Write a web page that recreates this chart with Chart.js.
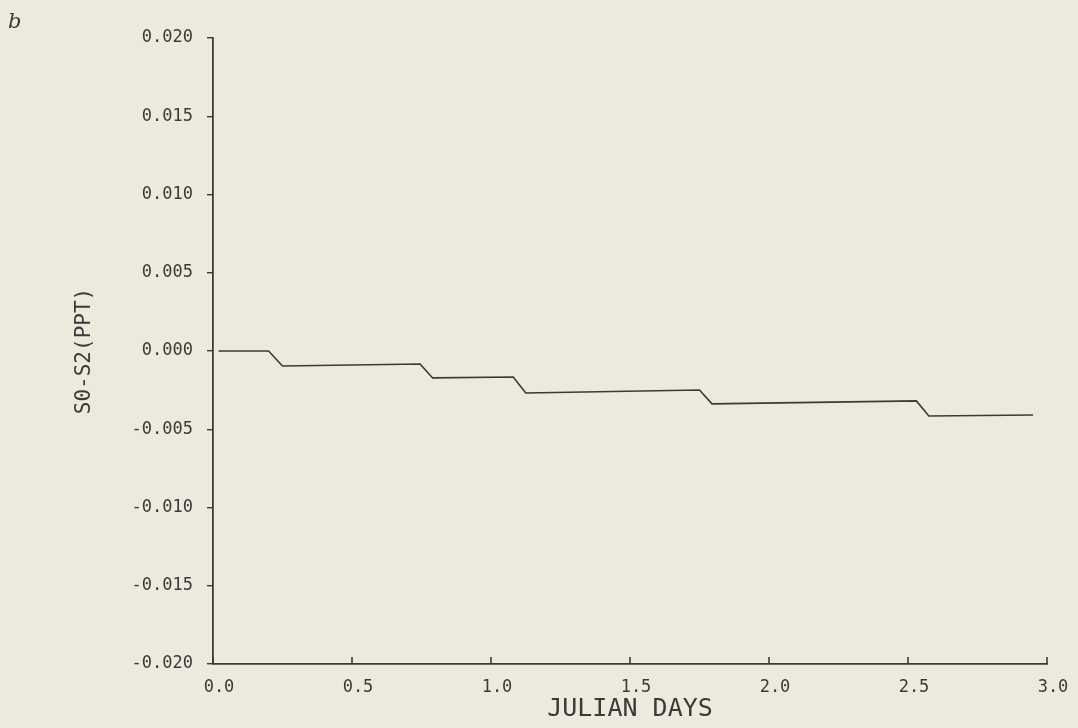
<!DOCTYPE html>
<html>
<head>
<meta charset="utf-8">
<script src="https://cdn.jsdelivr.net/npm/chart.js@4.4.1/dist/chart.umd.min.js"></script>
<style>
  html, body { margin: 0; padding: 0; background: #ede9dc; }
  #wrap { width: 1078px; height: 728px; }
</style>
</head>
<body>
<div id="wrap"><canvas id="salinityChart" width="1078" height="728"></canvas></div>
<script>
// ── salinity difference record, S0 - S2 (ppt) vs julian days ──
const days   = [0.02, 0.20, 0.25, 0.745, 0.79, 1.08, 1.125, 1.75, 1.795, 2.53, 2.575, 2.95];
const deltaS = [0.0, 0.0, -0.00096, -0.00083, -0.00172, -0.00166, -0.00268, -0.00249, -0.00338, -0.00319, -0.00415, -0.00409];

const xTicks = [0.0, 0.5, 1.0, 1.5, 2.0, 2.5, 3.0];
const yTicks = [0.020, 0.015, 0.010, 0.005, 0.000, -0.005, -0.010, -0.015, -0.020];

const INK = '#3a3a3a';
const PAPER = '#ede9dc';
const TICK_FONT = { family: 'DejaVu Sans Mono', size: 17 };

// paper background + panel letter
const paperPlugin = {
  id: 'paper',
  beforeDraw(chart) {
    const { ctx, width, height } = chart;
    ctx.save();
    ctx.fillStyle = PAPER;
    ctx.fillRect(0, 0, width, height);
    ctx.restore();
  },
  afterDraw(chart) {
    const ctx = chart.ctx;
    ctx.save();
    ctx.fillStyle = INK;
    ctx.font = 'italic 21px "DejaVu Serif"';
    ctx.textBaseline = 'alphabetic';
    ctx.fillText('b', 8, 28);
    ctx.restore();
  }
};

// x ticks point up into the plot, plotter style
const innerTicks = {
  id: 'innerTicks',
  afterDraw(chart) {
    const x = chart.scales.x;
    const ctx = chart.ctx;
    ctx.save();
    ctx.strokeStyle = INK;
    ctx.lineWidth = 1.6;
    x.ticks.forEach(t => {
      const px = x.getPixelForValue(t.value);
      ctx.beginPath();
      ctx.moveTo(px, x.top);
      ctx.lineTo(px, x.top - 7);
      ctx.stroke();
    });
    ctx.restore();
  }
};

new Chart(document.getElementById('salinityChart'), {
  type: 'line',
  data: {
    datasets: [{
      data: days.map((d, i) => ({ x: d, y: deltaS[i] })),
      borderColor: INK,
      borderWidth: 1.6,
      pointRadius: 0,
      tension: 0,
      fill: false
    }]
  },
  options: {
    responsive: false,
    animation: false,
    layout: { padding: { left: 0, right: 31, top: 38, bottom: 0 } },
    plugins: { legend: { display: false }, tooltip: { enabled: false } },
    scales: {
      x: {
        type: 'linear',
        min: 0, max: 3,
        afterBuildTicks: s => { s.ticks = xTicks.map(v => ({ value: v })); },
        afterFit: s => { s.height = 64; },
        border: { display: true, color: INK, width: 1.8 },
        grid: { display: false, drawTicks: false },
        ticks: {
          color: INK, font: TICK_FONT, padding: 13, labelOffset: 6,
          maxRotation: 0, autoSkip: false,
          callback: v => v.toFixed(1)
        },
        title: {
          display: true, text: 'JULIAN DAYS', color: INK,
          font: { family: 'DejaVu Sans Mono', size: 25 },
          padding: { top: 0, bottom: 4 }
        }
      },
      y: {
        type: 'linear',
        min: -0.02, max: 0.02,
        afterBuildTicks: s => { s.ticks = yTicks.map(v => ({ value: v })); },
        afterFit: s => { s.width = 213; },
        border: { display: true, color: INK, width: 1.8 },
        grid: { drawOnChartArea: false, drawTicks: true, tickLength: 6, color: INK, lineWidth: 1.4 },
        ticks: {
          color: INK, font: TICK_FONT, padding: 14, autoSkip: false,
          callback: v => v.toFixed(3)
        },
        title: {
          display: true, text: 'S0-S2(PPT)', color: INK,
          font: { family: 'DejaVu Sans Mono', size: 21 },
          padding: { top: 72, bottom: 0 }
        }
      }
    }
  },
  plugins: [paperPlugin, innerTicks]
});
</script>
</body>
</html>
